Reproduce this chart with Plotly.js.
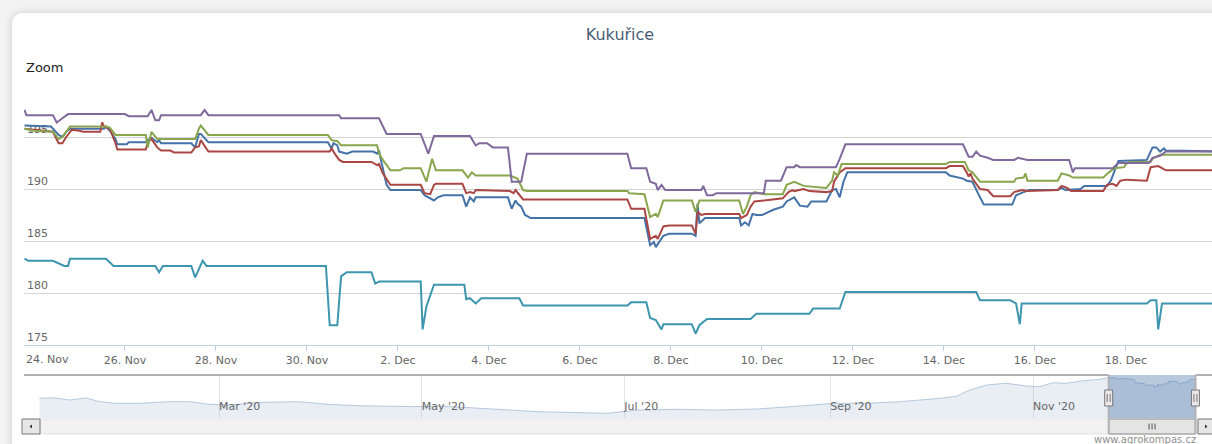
<!DOCTYPE html>
<html><head><meta charset="utf-8">
<script src="https://cdn.plot.ly/plotly-3.0.1.min.js"></script>
<style>
html,body{margin:0;padding:0;background:#f3f3f3;width:1212px;height:444px;overflow:hidden;}
#card{position:absolute;left:12px;top:13px;width:1240px;height:470px;background:#fff;border-radius:10px;box-shadow:0 0 8px rgba(0,0,0,0.16);}
#chart{position:absolute;left:0;top:0;width:1212px;height:444px;}
</style></head><body><div id="card"></div><div id="chart"></div>
<script>
// ---------- data ----------
const chartTitle = 'Kukuřice';
const seriesColors = ['#4572A7', '#AA4643', '#89A54E', '#80699B', '#3D96AE'];

const blueT = ['11-23 19','11-24 09','11-24 13','11-24 15','11-24 17','11-24 19','11-25 13','11-25 14','11-25 16','11-25 19',
 '11-25 20','11-26 01','11-26 02','11-26 11','11-26 12','11-26 14','11-26 17','11-26 18','11-26 19','11-26 22',
 '11-27 11','11-27 13','11-27 15','11-27 16','11-27 20','11-30 11','11-30 13','11-30 14','11-30 16','11-30 17',
 '11-30 21','12-01 00','12-01 11','12-01 13','12-01 14','12-01 15','12-01 18','12-01 20','12-02 12','12-02 14',
 '12-02 17','12-02 19','12-02 21','12-03 00','12-03 10','12-03 12','12-03 14','12-03 16','12-03 17','12-04 10',
 '12-04 12','12-04 14','12-04 15','12-04 17','12-04 19','12-04 22','12-07 10','12-07 13','12-07 15','12-07 16',
 '12-07 17','12-07 20','12-07 23','12-08 11','12-08 13','12-08 14','12-08 15','12-08 18','12-09 12','12-09 13',
 '12-09 15','12-09 17','12-09 19','12-09 21','12-10 00','12-10 06','12-10 11','12-10 13','12-10 16','12-10 17',
 '12-10 20','12-11 00','12-11 02','12-11 10','12-11 13','12-11 15','12-11 17','12-11 19','12-11 21','12-14 01',
 '12-14 03','12-14 10','12-14 12','12-14 15','12-14 19','12-14 21','12-15 12','12-15 14','12-15 18','12-15 21',
 '12-16 12','12-16 14','12-16 16','12-17 00','12-17 02','12-17 14','12-17 16','12-17 20','12-18 11','12-18 14',
 '12-18 16','12-18 18','12-18 20','12-18 21','12-20 06'];
const blueV = [196.1,196.0,195.2,195.0,195.5,195.8,195.8,196.0,195.6,194.8,
 194.3,194.3,194.5,194.5,194.7,194.9,194.5,194.7,194.4,194.4,
 194.4,194.0,195.3,195.3,194.5,194.5,193.9,194.4,194.2,193.6,
 193.4,193.6,193.6,193.4,193.7,192.8,190.4,189.9,189.9,189.4,
 189.1,188.9,189.2,189.4,189.4,188.3,189.2,188.8,189.2,189.2,
 188.1,188.9,188.6,188.3,187.5,187.2,187.2,184.6,184.9,184.4,
 184.7,185.5,185.7,185.7,185.5,188.6,186.7,187.2,187.2,186.5,
 186.8,186.5,187.6,187.5,187.5,188.0,188.3,188.8,189.1,189.2,
 188.4,188.3,188.8,188.8,189.9,190.0,189.2,190.7,191.6,191.6,
 191.3,191.0,190.8,190.7,189.2,188.5,188.5,189.4,189.7,189.9,
 189.9,190.1,189.9,190.0,190.3,190.3,190.8,192.7,192.8,194.0,
 194.0,193.6,193.9,193.7,193.6];

const redT = ['11-23 19','11-24 00','11-24 10','11-24 13','11-24 15','11-24 17','11-24 20','11-25 00','11-25 02','11-25 11',
 '11-25 12','11-25 13','11-25 16','11-25 19','11-25 20','11-26 11','11-26 12','11-26 14','11-26 17','11-26 19',
 '11-27 00','11-27 02','11-27 11','11-27 13','11-27 15','11-27 16','11-27 20','11-30 12','11-30 13','11-30 15',
 '11-30 17','11-30 19','12-01 10','12-01 13','12-01 14','12-01 16','12-01 17','12-01 19','12-01 20','12-02 12',
 '12-02 14','12-02 17','12-02 19','12-02 20','12-03 10','12-03 12','12-03 14','12-03 16','12-03 17','12-04 11',
 '12-04 13','12-04 14','12-04 16','12-04 18','12-07 01','12-07 03','12-07 10','12-07 13','12-07 16','12-07 17',
 '12-07 20','12-07 23','12-08 11','12-08 13','12-08 14','12-08 16','12-08 18','12-09 12','12-09 13','12-09 16',
 '12-09 18','12-09 20','12-10 11','12-10 14','12-10 16','12-10 17','12-10 22','12-11 01','12-11 10','12-11 13',
 '12-11 14','12-11 17','12-11 20','12-14 01','12-14 03','12-14 10','12-14 12','12-14 13','12-14 14','12-14 15',
 '12-14 19','12-14 23','12-15 02','12-15 11','12-15 13','12-15 17','12-15 20','12-16 12','12-16 14','12-16 17',
 '12-16 19','12-17 12','12-17 14','12-17 17','12-17 19','12-17 21','12-18 00','12-18 11','12-18 13','12-18 17',
 '12-18 19','12-18 21','12-20 06'];
const redV = [195.8,195.7,195.5,194.4,194.4,195.0,195.7,195.6,195.5,195.5,
 196.4,196.0,195.8,194.4,193.8,193.8,194.5,194.8,194.0,193.7,
 193.7,193.5,193.5,194.0,194.1,194.7,193.6,193.6,193.9,193.3,
 192.8,192.6,192.6,192.3,192.4,191.5,191.2,190.7,190.4,190.4,
 189.6,189.5,190.4,190.5,190.5,189.6,189.7,189.6,189.9,189.8,
 189.6,189.9,189.4,189.0,189.0,188.1,188.1,185.2,185.5,185.2,
 186.4,186.5,186.5,185.7,187.8,187.5,187.6,187.6,187.2,187.5,
 188.3,188.8,189.1,189.7,189.9,189.8,190.0,189.8,189.7,189.8,
 190.7,191.6,192.0,192.0,192.2,192.2,191.6,191.2,191.5,191.0,
 190.0,189.9,189.3,189.3,189.7,189.9,189.8,189.9,190.3,190.1,
 189.8,189.8,190.4,190.5,190.3,190.8,190.9,190.8,192.1,192.2,
 192.0,191.8,191.8];

const greenT = ['11-23 19','11-24 00','11-24 10','11-24 13','11-24 15','11-24 19','11-25 14','11-25 16','11-25 19','11-26 11',
 '11-26 12','11-26 14','11-26 17','11-27 13','11-27 15','11-27 16','11-27 20','11-30 11','11-30 13','11-30 16',
 '11-30 18','12-01 13','12-01 14','12-01 16','12-01 20','12-02 01','12-02 03','12-02 12','12-02 15','12-02 18',
 '12-02 20','12-03 10','12-03 13','12-03 15','12-03 17','12-04 11','12-04 15','12-04 18','12-04 20','12-07 01',
 '12-07 02','12-07 10','12-07 13','12-07 16','12-07 17','12-07 20','12-08 11','12-08 13','12-08 15','12-09 12',
 '12-09 14','12-09 16','12-09 18','12-09 20','12-10 01','12-10 11','12-10 13','12-10 17','12-10 22','12-11 10',
 '12-11 13','12-11 14','12-11 16','12-11 18','12-14 01','12-14 03','12-14 11','12-14 13','12-14 15','12-14 19',
 '12-15 13','12-15 14','12-15 18','12-15 19','12-15 20','12-16 12','12-16 14','12-16 18','12-16 20','12-17 12',
 '12-17 15','12-17 18','12-17 23','12-18 00','12-18 02','12-18 13','12-18 14','12-18 18','12-20 06'];
const greenV = [195.8,195.6,195.5,194.8,195.0,196.0,196.0,195.9,195.2,195.2,
 194.0,195.5,194.8,194.8,195.8,196.1,195.2,195.2,194.7,194.6,
 194.2,194.2,193.4,192.8,191.8,191.8,192.0,192.0,190.7,192.9,
 191.8,191.8,191.1,191.6,191.3,191.3,191.0,189.9,189.8,189.8,
 189.6,189.5,187.3,187.6,187.3,188.9,188.9,187.8,188.9,188.9,
 187.6,188.3,189.4,189.7,189.5,189.5,190.4,190.7,190.3,190.1,
 190.8,191.6,191.3,192.4,192.4,192.6,192.6,191.8,191.6,190.7,
 190.7,191.0,191.1,191.5,190.8,190.8,191.5,191.3,191.1,191.1,
 191.6,192.0,192.1,192.4,192.6,192.6,192.9,193.3,193.3];

const purpleT = ['11-23 19','11-23 20','11-24 10','11-24 12','11-24 15','11-24 18','11-26 00','11-26 02','11-26 12','11-26 14',
 '11-26 16','11-26 18','11-26 19','11-27 16','11-27 18','11-27 20','11-30 17','11-30 18','12-01 14','12-01 18',
 '12-02 12','12-02 16','12-02 19','12-03 14','12-03 17','12-03 19','12-03 23','12-04 02','12-04 10','12-04 12',
 '12-04 17','12-04 20','12-07 01','12-07 03','12-07 11','12-07 13','12-07 16','12-07 17','12-07 19','12-07 21',
 '12-08 16','12-08 17','12-08 19','12-08 22','12-09 00','12-10 01','12-10 02','12-10 10','12-10 13','12-10 17',
 '12-10 18','12-10 20','12-11 15','12-11 17','12-11 20','12-14 10','12-14 13','12-14 15','12-14 17','12-14 19',
 '12-14 23','12-15 02','12-15 13','12-15 15','12-15 20','12-16 18','12-16 20','12-16 21','12-17 17','12-17 20',
 '12-18 12','12-18 14','12-18 18','12-18 21','12-20 06'];
const purpleV = [197.6,197.1,197.1,196.4,196.8,197.2,197.2,197.0,197.0,197.6,
 196.6,196.6,197.1,197.1,197.6,197.1,197.1,196.8,196.8,195.3,
 195.3,193.4,195.1,195.1,194.2,194.4,194.4,194.0,194.0,190.7,
 190.7,193.4,193.4,192.0,192.0,190.7,190.5,189.9,190.4,189.9,
 189.9,190.3,189.4,189.4,189.6,189.6,190.8,190.8,192.1,192.1,
 192.3,192.1,192.1,192.9,194.3,194.3,193.1,193.1,193.6,193.2,
 193.0,192.8,192.8,193.0,192.8,192.8,191.6,192.0,192.0,192.5,
 192.5,193.0,193.2,193.6,193.6];

const tealT = ['11-23 19','11-23 21','11-24 10','11-24 16','11-24 18','11-24 19','11-25 14','11-25 18','11-26 16','11-26 18',
 '11-26 20','11-27 11','11-27 13','11-27 17','11-27 19','11-30 10','11-30 12','11-30 16','11-30 18','11-30 21',
 '12-01 10','12-01 12','12-01 14','12-02 12','12-02 13','12-02 15','12-02 19','12-03 11','12-03 12','12-03 14',
 '12-03 17','12-03 20','12-04 16','12-04 18','12-07 01','12-07 03','12-07 11','12-07 13','12-07 16','12-07 19',
 '12-07 20','12-08 11','12-08 13','12-08 15','12-08 19','12-09 18','12-09 21','12-11 01','12-11 03','12-11 17',
 '12-11 20','12-14 17','12-14 19','12-15 11','12-15 14','12-15 16','12-15 17','12-18 11','12-18 13','12-18 16',
 '12-18 17','12-18 19','12-20 06'];
const tealV = [183.3,183.1,183.1,182.6,182.6,183.3,183.3,182.6,182.6,182.0,
 182.6,182.6,181.5,183.1,182.6,182.6,176.9,176.9,181.6,182.0,
 182.0,180.9,181.1,181.1,176.5,178.7,180.8,180.8,179.4,179.5,
 179.0,179.5,179.5,178.8,178.8,179.1,179.1,177.6,177.4,176.5,
 177.0,177.0,176.1,176.9,177.5,177.5,178.0,178.0,178.5,178.5,
 180.1,180.1,179.3,179.3,179.0,177.0,179.0,179.0,179.3,179.3,
 176.5,179.0,179.0];

// navigator history (first series over the year), continued by blue series
const navHistT = ['01-07','01-11','01-16','01-21','01-25','01-30','02-06','02-15','02-21','02-27',
 '03-04','03-14','03-25','04-03','04-12','04-24','04-30','05-06','05-15','05-24',
 '06-05','06-17','06-26','07-05','07-17','07-29','08-10','08-23','09-02','09-12',
 '09-22','10-04','10-09','10-13','10-18','10-24','10-30','11-03','11-07','11-11',
 '11-16','11-21'];
const navHistV = [172.2,172.9,170.3,172.6,168.4,166.5,166.5,168.4,168.4,165.4,
 164.6,167.7,168.4,165.4,163.8,162.7,162.7,163.5,162.0,159.7,
 157.0,155.9,155.2,158.9,159.7,158.9,160.1,163.5,166.5,166.5,
 168.4,172.2,174.8,181.7,187.3,189.3,186.2,185.4,190.0,189.3,
 192.2,193.8];

const xTickDates = ['2020-11-24','2020-11-26','2020-11-28','2020-11-30','2020-12-02','2020-12-04','2020-12-06',
 '2020-12-08','2020-12-10','2020-12-12','2020-12-14','2020-12-16','2020-12-18'];
const xTickLabels = ['24. Nov','26. Nov','28. Nov','30. Nov','2. Dec','4. Dec','6. Dec',
 '8. Dec','10. Dec','12. Dec','14. Dec','16. Dec','18. Dec'];
const yTickVals = [175, 180, 185, 190, 195, 200];
const yTickLabels = ['175', '180', '185', '190', '195', ''];
const navTickDates = ['2020-03-01','2020-05-01','2020-07-01','2020-09-01','2020-11-01'];
const navTickLabels = ["Mar '20", "May '20", "Jul '20", "Sep '20", "Nov '20"];
const creditText = 'www.agrokompas.cz';

const MAIN_START = '2020-11-23 18:45', MAIN_END = '2020-12-19 21:22';
const NAV_START = '2020-01-02 07:26', NAV_END = '2020-12-24 21:00';

// ---------- helpers ----------
const T = s => '2020-' + s.slice(0,5) + ' ' + s.slice(6) + ':00';
const D = s => '2020-' + s;
const toMs = s => Date.parse(s.replace(' ', 'T') + 'Z');
const fromMs = ms => new Date(ms).toISOString().slice(0,16).replace('T', ' ');

const W = 1212, H = 444, ML = 24, MR = 0, MT = 85, MB = 11;
const PW = W - ML - MR, PH = H - MT - MB;
const px = p => (p - ML) / PW;
const py = p => (H - MB - p) / PH;

// the first tick label sits at the very left edge: it is justified inside the plot (as in the original),
// drawn as an annotation anchored to its tick date; the remaining labels are regular tick labels
const xTickText = xTickLabels.map((t, i) => i === 0 ? '' : t);

const series = [[blueT, blueV], [redT, redV], [greenT, greenV], [purpleT, purpleV], [tealT, tealV]];
const traces = series.map((s, i) => ({
  type: 'scatter', mode: 'lines', x: s[0].map(T), y: s[1],
  line: {color: seriesColors[i], width: 2}, xaxis: 'x', yaxis: 'y', hoverinfo: 'skip'
}));
traces.push({
  type: 'scatter', mode: 'lines', x: navHistT.map(D).concat(blueT.map(T)), y: navHistV.concat(blueV),
  fill: 'tozeroy', fillcolor: 'rgba(69,114,167,0.12)',
  line: {color: 'rgba(69,114,167,0.35)', width: 1}, xaxis: 'x2', yaxis: 'y2', hoverinfo: 'skip'
});

const mid = fromMs((toMs(MAIN_START) + toMs(MAIN_END)) / 2);
const navTop = py(375), navBot = py(418), sbTop = py(419), sbBot = py(434);
const outline = {color: '#b2b1b6', width: 2};
const shapes = [
  {type: 'rect', xref: 'x2', yref: 'paper', x0: MAIN_START, x1: MAIN_END, y0: navBot, y1: navTop,
   fillcolor: 'rgba(69,114,167,0.38)', line: {width: 0}, layer: 'above'},
  {type: 'rect', xref: 'paper', yref: 'paper', x0: px(40), x1: px(1197), y0: sbBot, y1: sbTop,
   fillcolor: '#f2f2f2', line: {color: '#e2e2e2', width: 1}},
  {type: 'rect', xref: 'x2', yref: 'paper', x0: MAIN_START, x1: MAIN_END, y0: sbBot, y1: sbTop,
   fillcolor: '#e4e4e4', line: {color: '#8a8a8a', width: 1}},
  {type: 'line', xref: 'x2', yref: 'paper', x0: NAV_START, x1: MAIN_START, y0: navTop, y1: navTop, line: outline},
  {type: 'line', xref: 'x2', yref: 'paper', x0: MAIN_START, x1: MAIN_START, y0: navTop, y1: sbBot, line: outline},
  {type: 'line', xref: 'x2', yref: 'paper', x0: MAIN_END, x1: MAIN_END, y0: navTop, y1: sbBot, line: outline},
  {type: 'line', xref: 'x2', yref: 'paper', x0: MAIN_END, x1: NAV_END, y0: navTop, y1: navTop, line: outline},
  {type: 'rect', xref: 'paper', yref: 'paper', x0: px(22), x1: px(40), y0: sbBot, y1: sbTop,
   fillcolor: '#e6e6e6', line: {color: '#777', width: 1}},
  {type: 'path', xref: 'paper', yref: 'paper', fillcolor: '#333', line: {width: 0},
   path: `M ${px(29.5)} ${py(426.5)} L ${px(32)} ${py(424.5)} L ${px(32)} ${py(428.5)} Z`},
  {type: 'rect', xref: 'paper', yref: 'paper', x0: px(1198), x1: px(1216), y0: sbBot, y1: sbTop,
   fillcolor: '#e6e6e6', line: {color: '#777', width: 1}},
  {type: 'path', xref: 'paper', yref: 'paper', fillcolor: '#333', line: {width: 0},
   path: `M ${px(1207.5)} ${py(426.5)} L ${px(1205)} ${py(424.5)} L ${px(1205)} ${py(428.5)} Z`}
];
[-3, 0, 3].forEach(o => shapes.push({type: 'line', xref: 'x2', yref: 'paper', xsizemode: 'pixel', xanchor: mid,
  x0: o, x1: o, y0: py(429.5), y1: py(423.5), line: {color: '#555', width: 1}}));
[MAIN_START, MAIN_END].forEach(a => {
  shapes.push({type: 'rect', xref: 'x2', yref: 'paper', xsizemode: 'pixel', xanchor: a,
    x0: -4, x1: 4, y0: py(406), y1: py(390), fillcolor: '#ebe7e8', line: {color: '#777', width: 1}});
  [-1.5, 1.5].forEach(o => shapes.push({type: 'line', xref: 'x2', yref: 'paper', xsizemode: 'pixel', xanchor: a,
    x0: o, x1: o, y0: py(402), y1: py(394), line: {color: '#777', width: 1}}));
});

const layout = {
  width: W, height: H, margin: {l: ML, r: MR, t: MT, b: MB},
  paper_bgcolor: 'rgba(0,0,0,0)', plot_bgcolor: 'rgba(0,0,0,0)', showlegend: false,
  font: {family: 'DejaVu Sans, sans-serif', size: 11, color: '#666'},
  title: {text: chartTitle, font: {size: 16, color: '#4a5e75'}, xref: 'container', x: 620 / W, xanchor: 'center',
          yref: 'container', y: 1 - 34 / H, yanchor: 'middle'},
  xaxis: {type: 'date', range: [MAIN_START, MAIN_END], domain: [0, 1], anchor: 'y',
          tickvals: xTickDates, ticktext: xTickText, ticks: 'outside', ticklen: 5, tickcolor: '#C0D0E0',
          showline: true, linecolor: '#C0D0E0', linewidth: 1, showgrid: false, zeroline: false,
          tickfont: {size: 11, color: '#666'}},
  yaxis: {domain: [py(345), 1], range: [175, 200], tickvals: yTickVals, ticktext: yTickLabels,
          ticklabelposition: 'inside top', gridcolor: '#d4d4d4', gridwidth: 1, zeroline: false, showline: false,
          ticks: '', layer: 'below traces', tickfont: {size: 11, color: '#666'}},
  xaxis2: {type: 'date', anchor: 'y2', domain: [0, 1], range: [NAV_START, NAV_END],
           tickvals: navTickDates, ticktext: navTickLabels, ticklabelposition: 'inside right',
           showgrid: true, gridcolor: '#e6e6e6', ticks: '', showline: false, zeroline: false,
           tickfont: {size: 11, color: '#666'}},
  yaxis2: {domain: [navBot, navTop], range: [149.8, 198.7], visible: false},
  shapes: shapes,
  annotations: [
    {text: xTickLabels[0], xref: 'x', yref: 'paper', x: xTickDates[0], y: py(359), xanchor: 'left', xshift: -10,
     yanchor: 'middle', showarrow: false, font: {size: 11, color: '#666'}},
    {text: 'Zoom', xref: 'paper', yref: 'paper', x: px(24), y: py(68), xanchor: 'left', yanchor: 'middle',
     showarrow: false, font: {size: 13, color: '#222'}},
    {text: creditText, xref: 'paper', yref: 'paper', x: px(1092), y: py(439), xanchor: 'left', yanchor: 'middle',
     showarrow: false, font: {size: 10, color: '#909090'}}
  ]
};

Plotly.newPlot('chart', traces, layout, {displayModeBar: false, staticPlot: true});
</script></body></html>
